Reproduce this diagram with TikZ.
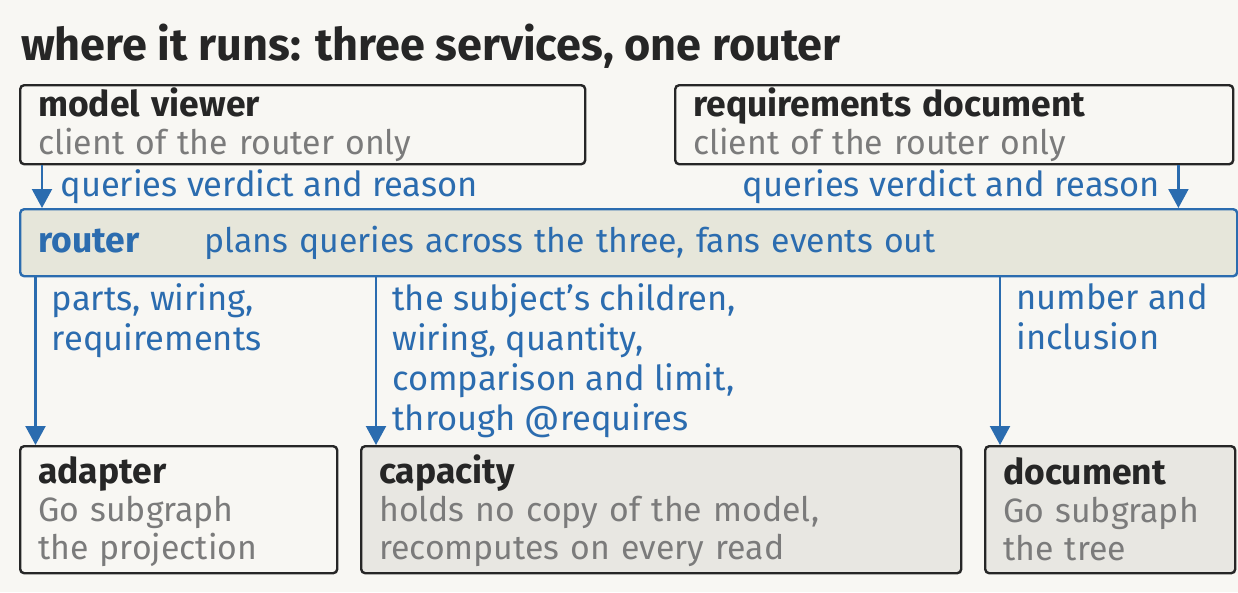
\documentclass[tikz,border=0pt]{standalone}
\usepackage{fontspec}
\setmainfont{Fira Sans}
\usetikzlibrary{arrows.meta}

\definecolor{paper}{HTML}{F8F7F3}
\definecolor{ink}{HTML}{262626}
\definecolor{dim}{HTML}{7B7B7B}
\definecolor{route}{HTML}{2B6CAF}
\definecolor{routefill}{HTML}{E6E6DA}
\definecolor{svcfill}{HTML}{E8E7E2}

\newcommand{\headline}[1]{{\fontsize{35.5}{38}\selectfont\bfseries\textcolor{ink}{#1}}}
\newcommand{\toprule}{\rule{0pt}{30pt}}
\newcommand{\lowrule}{\rule[-5pt]{0pt}{5pt}}

\tikzset{
  svc/.style={draw=ink, line width=2.4pt, rounded corners=4pt, anchor=north west,
    align=left, inner xsep=18pt, inner ysep=0pt, fill=paper},
  flow/.style={->, draw=route, line width=2.2pt, >={Triangle[width=20pt,length=19pt]}},
  lbl/.style={text=route, align=left, font=\fontsize{34.5}{40}\selectfont},
}

\begin{document}
\begin{tikzpicture}[x=1pt, y=-1pt, font=\fontsize{33.8}{38}\selectfont]
\fill[paper] (0,0) rectangle (1238,592);
\useasboundingbox (0,0) rectangle (1238,592);
\node[anchor=base west, text=ink, inner sep=0pt, font=\fontsize{45}{50}\selectfont\bfseries] (title) at (21,60) {where it runs: three services, one router};
% clients
\node[svc, text width=529pt, minimum height=79pt] (viewer) at (19,84) {\headline{model viewer}\\\textcolor{dim}{client of the router only}};
\node[svc, text width=522pt, minimum height=79pt] (reqdoc) at (674,84) {\headline{requirements document}\\\textcolor{dim}{client of the router only}};
% router
\node[svc, draw=route, fill=routefill, text=route, text width=1181pt, minimum height=67pt] (router) at (19,208) {\makebox[166pt][l]{\headline{\color{route}router}}plans queries across the three, fans events out};
% services
\node[svc, text width=281pt, minimum height=127pt] (adapter) at (19,445) {\toprule\headline{adapter}\\\textcolor{dim}{Go subgraph}\\\textcolor{dim}{the projection}\lowrule};
\node[svc, fill=svcfill, text width=564pt, minimum height=127pt] (capacity) at (360,445) {\toprule\headline{capacity}\\\textcolor{dim}{holds no copy of the model,}\\\textcolor{dim}{recomputes on every read}\lowrule};
\node[svc, fill=svcfill, text width=214pt, minimum height=127pt] (document) at (984,445) {\toprule\headline{document}\\\textcolor{dim}{Go subgraph}\\\textcolor{dim}{the tree}\lowrule};
% queries in
\draw[flow] ([xshift=23pt]viewer.south west) -- ([xshift=23pt]viewer.south west |- router.north) node [midway, right, lbl, xshift=14pt] {queries verdict and reason};
\draw[flow] ([xshift=-56pt]reqdoc.south east) -- ([xshift=-56pt]reqdoc.south east |- router.north) node [midway, left, lbl, xshift=-14pt] {queries verdict and reason};
% fan out
\draw[flow] ([xshift=16.5pt]adapter.north west |- router.south) -- ([xshift=16.5pt]adapter.north west) node [pos=0, anchor=north west, lbl, xshift=12pt, yshift=-2pt] {parts, wiring,\\requirements};
\draw[flow] ([xshift=16pt]capacity.north west |- router.south) -- ([xshift=16pt]capacity.north west) node [pos=0, anchor=north west, lbl, xshift=12pt, yshift=-2pt] {the subject's children,\\wiring, quantity,\\comparison and limit,\\through @requires};
\draw[flow] ([xshift=16pt]document.north west |- router.south) -- ([xshift=16pt]document.north west) node [pos=0, anchor=north west, lbl, xshift=12pt, yshift=-2pt] {number and\\inclusion};
\end{tikzpicture}
\end{document}
